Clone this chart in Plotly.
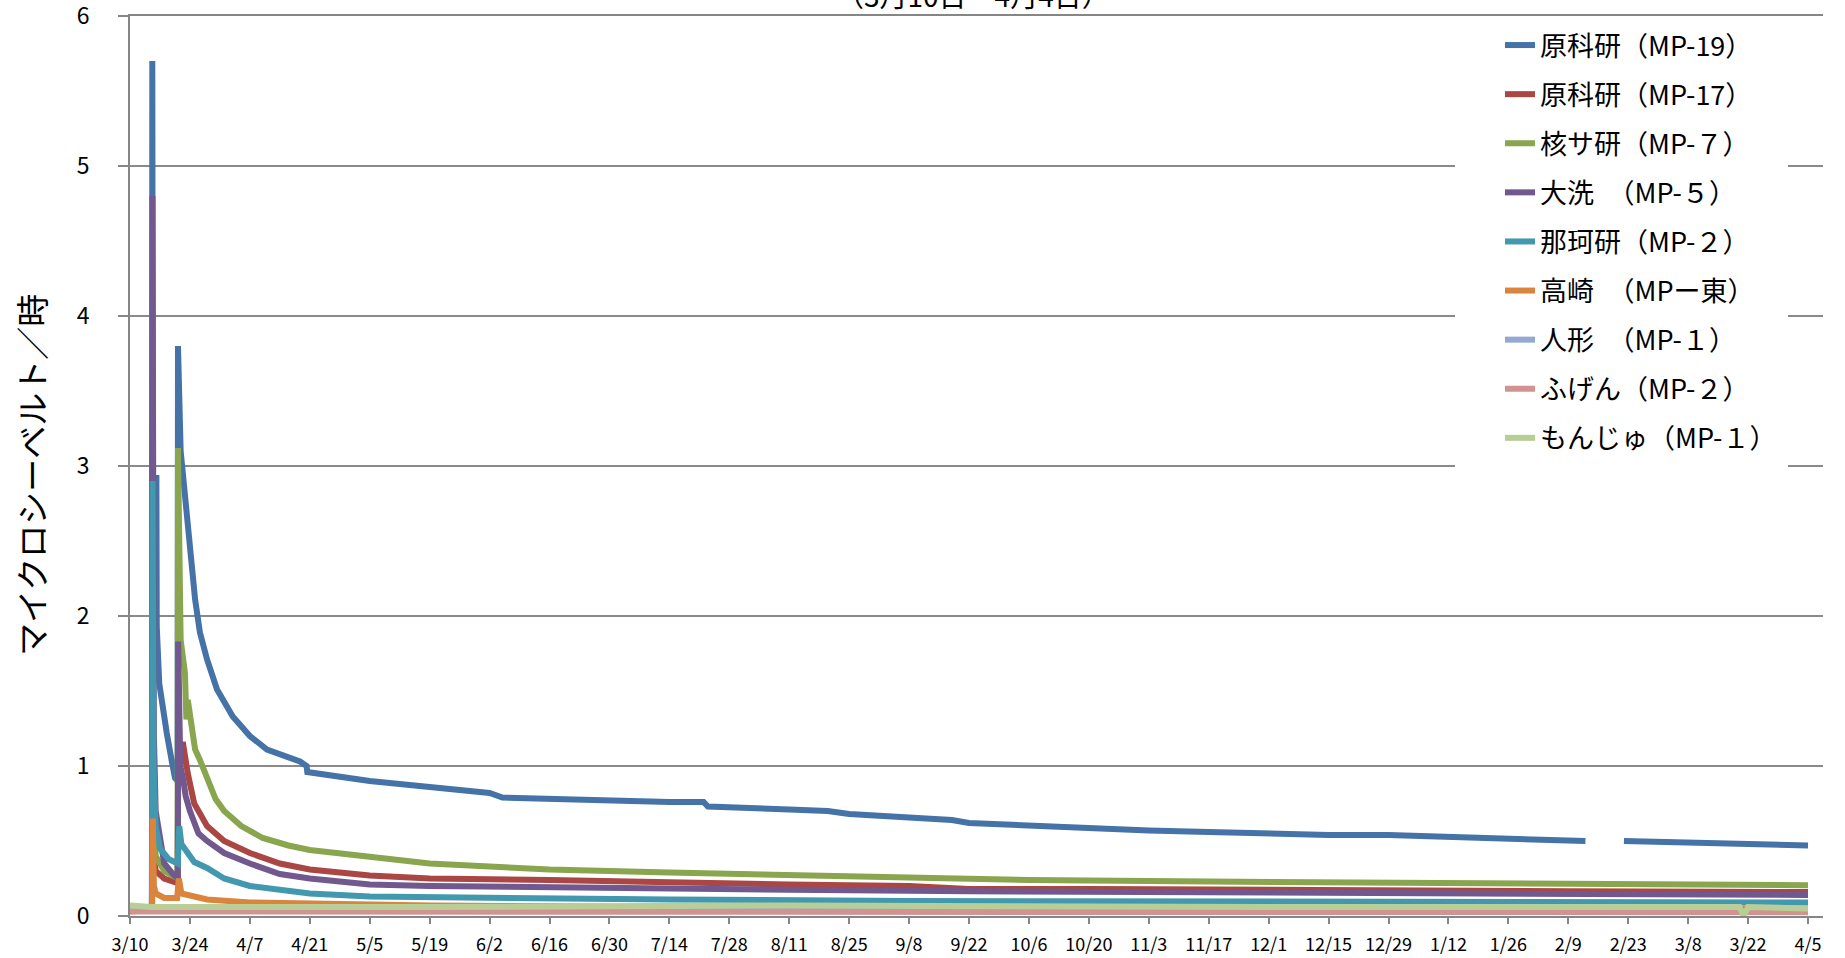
import plotly.graph_objects as go

# ---------------- DATA ----------------
series_names = [
    "原科研（MP-19）", "原科研（MP-17）", "核サ研（MP-７）", "大洗　（MP-５）",
    "那珂研（MP-２）", "高崎　（MPー東）", "人形　（MP-１）", "ふげん（MP-２）",
    "もんじゅ（MP-１）",
]
series_colors = ["#4572A7", "#AA4643", "#89A54E", "#71588F", "#4198AF",
                 "#DB843D", "#93A9CF", "#D19392", "#B9CD96"]

mp19_t = ["2011-03-10 00:00", "2011-03-15 03:00", "2011-03-15 05:00", "2011-03-15 08:00",
          "2011-03-16 04:00", "2011-03-16 06:00", "2011-03-16 20:00", "2011-03-17 19:00",
          "2011-03-18 14:00", "2011-03-19 17:00", "2011-03-20 12:00", "2011-03-21 03:00",
          "2011-03-21 05:00", "2011-03-21 20:00", "2011-03-22 20:00", "2011-03-23 14:00",
          "2011-03-24 12:00", "2011-03-25 05:00", "2011-03-26 08:00", "2011-03-28 00:00",
          "2011-03-30 08:00", "2011-04-03", "2011-04-07", "2011-04-11", "2011-04-18 17:00",
          "2011-04-20 06:00", "2011-04-20 10:00", "2011-04-26", "2011-05-05", "2011-05-19",
          "2011-06-02", "2011-06-05", "2011-06-16", "2011-06-30", "2011-07-14",
          "2011-07-22", "2011-07-23", "2011-08-11", "2011-08-20", "2011-08-25",
          "2011-09-08", "2011-09-18", "2011-09-22", "2011-10-06", "2011-10-20",
          "2011-11-03", "2011-11-17", "2011-12-01", "2011-12-15", "2011-12-29",
          "2012-01-12", "2012-01-26", "2012-02-13", "2012-02-17", "2012-02-22",
          "2012-03-08", "2012-03-22", "2012-04-05"]
mp19_v = [0.05, 0.06, 5.7, 2.92, 2.92, 1.93, 1.55, 1.33, 1.22, 1.04, 0.92, 0.9,
          3.8, 3.1, 2.8, 2.55, 2.33, 2.11, 1.89, 1.71, 1.51, 1.33, 1.2, 1.11, 1.03,
          1.0, 0.96, 0.94, 0.9, 0.86, 0.82, 0.79, 0.78, 0.77, 0.76, 0.76, 0.73,
          0.71, 0.70, 0.68, 0.66, 0.64, 0.62, 0.60, 0.58, 0.57, 0.56, 0.55, 0.54,
          0.54, 0.53, 0.51, 0.50, None, 0.50, 0.49, 0.48, 0.47]

mp17_t = ["2011-03-10", "2011-03-15 03:00", "2011-03-15 06:00", "2011-03-15 12:00",
          "2011-03-16", "2011-03-18", "2011-03-21 03:00", "2011-03-21 06:00",
          "2011-03-22 08:00", "2011-03-23 12:00", "2011-03-25", "2011-03-28",
          "2011-04-01", "2011-04-07", "2011-04-14", "2011-04-21", "2011-05-05",
          "2011-05-19", "2011-06-16", "2011-07-14", "2011-08-11", "2011-09-08",
          "2011-09-22", "2011-10-20", "2011-12-15", "2012-02-09", "2012-04-05"]
mp17_v = [0.06, 0.06, 1.0, 0.4, 0.3, 0.25, 0.22, 0.9, 1.16, 0.95, 0.75, 0.6,
          0.5, 0.42, 0.35, 0.31, 0.27, 0.25, 0.24, 0.22, 0.21, 0.2, 0.18, 0.18,
          0.17, 0.165, 0.16]

mp7_t = ["2011-03-10", "2011-03-15 03:00", "2011-03-15 06:00", "2011-03-16",
         "2011-03-18", "2011-03-21 03:00", "2011-03-21 05:00", "2011-03-21 20:00",
         "2011-03-22 20:00", "2011-03-23 04:00", "2011-03-23 12:00", "2011-03-24 12:00",
         "2011-03-25 05:00", "2011-03-26 08:00", "2011-03-28", "2011-03-30",
         "2011-04-01", "2011-04-05", "2011-04-10", "2011-04-16", "2011-04-21",
         "2011-05-05", "2011-05-19", "2011-06-02", "2011-06-16", "2011-07-14",
         "2011-08-11", "2011-09-08", "2011-10-06", "2011-11-17", "2012-01-12",
         "2012-02-09", "2012-04-05"]
mp7_v = [0.06, 0.06, 0.9, 0.4, 0.3, 0.25, 3.12, 1.84, 1.62, 1.31, 1.44, 1.22,
         1.11, 1.04, 0.91, 0.78, 0.7, 0.6, 0.52, 0.47, 0.44, 0.39, 0.35, 0.33,
         0.31, 0.29, 0.27, 0.25, 0.24, 0.23, 0.22, 0.21, 0.205]

mp5_t = ["2011-03-10", "2011-03-15 03:00", "2011-03-15 06:00", "2011-03-15 10:00",
         "2011-03-15 14:00", "2011-03-16", "2011-03-17", "2011-03-18", "2011-03-20",
         "2011-03-21 04:00", "2011-03-21 06:00", "2011-03-21 18:00", "2011-03-22 12:00",
         "2011-03-23", "2011-03-24", "2011-03-26", "2011-03-28", "2011-04-01",
         "2011-04-07", "2011-04-14", "2011-04-21", "2011-05-05", "2011-05-19",
         "2011-06-16", "2011-07-14", "2011-08-11", "2011-09-22", "2011-11-17",
         "2012-01-12", "2012-04-05"]
mp5_v = [0.05, 0.05, 4.8, 1.5, 1.2, 0.7, 0.5, 0.35, 0.28, 0.25, 1.83, 1.0, 0.9,
         0.8, 0.7, 0.55, 0.5, 0.42, 0.35, 0.28, 0.25, 0.21, 0.2, 0.19, 0.18,
         0.175, 0.165, 0.155, 0.15, 0.14]

mp2_t = ["2011-03-10", "2011-03-15 03:00", "2011-03-15 07:00", "2011-03-15 12:00",
         "2011-03-16", "2011-03-17", "2011-03-19", "2011-03-21 04:00",
         "2011-03-21 12:00", "2011-03-22", "2011-03-23", "2011-03-25", "2011-03-28",
         "2011-04-01", "2011-04-07", "2011-04-14", "2011-04-21", "2011-05-05",
         "2011-06-02", "2011-07-14", "2011-09-08", "2011-11-17", "2012-01-26",
         "2012-04-05"]
mp2_v = [0.05, 0.05, 2.9, 1.0, 0.6, 0.45, 0.38, 0.35, 0.6, 0.48, 0.44, 0.36,
         0.32, 0.25, 0.2, 0.17, 0.15, 0.13, 0.12, 0.11, 0.1, 0.095, 0.09, 0.09]

mpe_t = ["2011-03-10", "2011-03-15 04:00", "2011-03-15 08:00", "2011-03-15 14:00",
         "2011-03-16", "2011-03-18", "2011-03-21", "2011-03-21 10:00", "2011-03-22",
         "2011-03-28", "2011-04-07", "2011-04-21", "2011-05-19", "2011-07-14",
         "2011-10-06", "2012-01-12", "2012-04-05"]
mpe_v = [0.03, 0.04, 0.65, 0.2, 0.15, 0.12, 0.12, 0.25, 0.15, 0.11, 0.09, 0.08,
         0.07, 0.06, 0.055, 0.05, 0.05]

ng_t = ["2011-03-10", "2011-03-15", "2011-03-21", "2011-04-21", "2011-07-14",
        "2011-12-29", "2012-01-12", "2012-04-05"]
ng_v = [0.04, 0.05, 0.05, 0.06, 0.06, 0.05, 0.03, 0.03]

fg_t = ["2011-03-10", "2011-03-15", "2011-03-22", "2011-06-16", "2011-10-06",
        "2012-01-26", "2012-04-05"]
fg_v = [0.03, 0.03, 0.035, 0.03, 0.03, 0.025, 0.025]

mj_t = ["2011-03-10", "2011-03-15", "2011-05-19", "2011-08-11", "2011-12-01",
        "2012-03-20", "2012-03-21", "2012-03-22", "2012-04-05"]
mj_v = [0.07, 0.06, 0.06, 0.07, 0.06, 0.06, 0.0, 0.06, 0.05]

series_t = [mp19_t, mp17_t, mp7_t, mp5_t, mp2_t, mpe_t, ng_t, fg_t, mj_t]
series_v = [mp19_v, mp17_v, mp7_v, mp5_v, mp2_v, mpe_v, ng_v, fg_v, mj_v]

tick_dates = ["2011-03-10", "2011-03-24", "2011-04-07", "2011-04-21", "2011-05-05",
              "2011-05-19", "2011-06-02", "2011-06-16", "2011-06-30", "2011-07-14",
              "2011-07-28", "2011-08-11", "2011-08-25", "2011-09-08", "2011-09-22",
              "2011-10-06", "2011-10-20", "2011-11-03", "2011-11-17", "2011-12-01",
              "2011-12-15", "2011-12-29", "2012-01-12", "2012-01-26", "2012-02-09",
              "2012-02-23", "2012-03-08", "2012-03-22", "2012-04-05"]
tick_labels = ["3/10", "3/24", "4/7", "4/21", "5/5", "5/19", "6/2", "6/16", "6/30",
               "7/14", "7/28", "8/11", "8/25", "9/8", "9/22", "10/6", "10/20", "11/3",
               "11/17", "12/1", "12/15", "12/29", "1/12", "1/26", "2/9", "2/23", "3/8",
               "3/22", "4/5"]
y_ticks = [0, 1, 2, 3, 4, 5, 6]

title_text = "（3月10日～4月4日）"
y_title = "マイクロシーベルト／時"

# ---------------- FIGURE ----------------
FONT = "Noto Sans CJK JP"
fig = go.Figure()
for i, (name, col, t, v) in enumerate(zip(series_names, series_colors, series_t, series_v)):
    fig.add_trace(go.Scatter(
        x=t, y=v, mode="lines", name=name, legendgroup=f"g{i}",
        line=dict(color=col, width=6), connectgaps=False,
    ))

W, H = 1845, 958
ml, mr, mt, mb = 130, 22, 16, 42
pw, ph = W - ml - mr, H - mt - mb

fig.update_layout(
    width=W, height=H,
    margin=dict(l=ml, r=mr, t=mt, b=mb, autoexpand=False),
    paper_bgcolor="white", plot_bgcolor="white",
    font=dict(family=FONT, color="#000000"),
    showlegend=True,
    legend=dict(
        x=(1500 - ml) / pw, y=1 - 5 / ph, xanchor="left", yanchor="top",
        bgcolor="rgba(0,0,0,0)", borderwidth=0,
        font=dict(family=FONT, size=27, color="#000000"),
        tracegroupgap=11,
    ),
    xaxis=dict(
        type="date", range=["2011-03-10", "2012-04-08 12:00"],
        tickmode="array", tickvals=tick_dates, ticktext=tick_labels,
        tickfont=dict(family=FONT, size=18, color="#000000"),
        showgrid=False, showline=True, mirror=True,
        linecolor="#868686", linewidth=2,
        ticks="outside", ticklen=6, tickcolor="#868686", tickwidth=2,
        ticklabelstandoff=5, zeroline=False, ticklabeloverflow="allow",
        automargin=False,
    ),
    yaxis=dict(
        range=[0, 6], tickmode="array", tickvals=y_ticks,
        tickfont=dict(family=FONT, size=23, color="#000000"),
        showgrid=True, gridcolor="#8A8A8A", gridwidth=2,
        showline=True, linecolor="#868686", linewidth=2,
        ticks="outside", ticklen=10, tickcolor="#868686", tickwidth=2,
        ticklabelstandoff=24, zeroline=False, ticklabeloverflow="allow",
        automargin=False,
    ),
    shapes=[dict(
        type="rect", xref="paper", yref="y",
        x0=(1455 - ml) / pw, x1=(1788 - ml) / pw, y0=2.95, y1=5.98,
        fillcolor="white", line=dict(width=0), layer="above",
    )],
    annotations=[
        dict(text=title_text, xref="paper", yref="paper", x=0.498, y=1 - 1 / ph,
             xanchor="center", yanchor="bottom", showarrow=False,
             font=dict(family=FONT, size=28, color="#000000")),
        dict(text=y_title, xref="paper", yref="paper", x=(31 - ml) / pw, y=0.49,
             xanchor="center", yanchor="middle", textangle=-90, showarrow=False,
             font=dict(family=FONT, size=33, color="#000000")),
    ],
)

fig.write_html("out.html", config={"displayModeBar": False},
               post_script="document.body.style.margin='0';document.body.style.overflow='hidden';")
